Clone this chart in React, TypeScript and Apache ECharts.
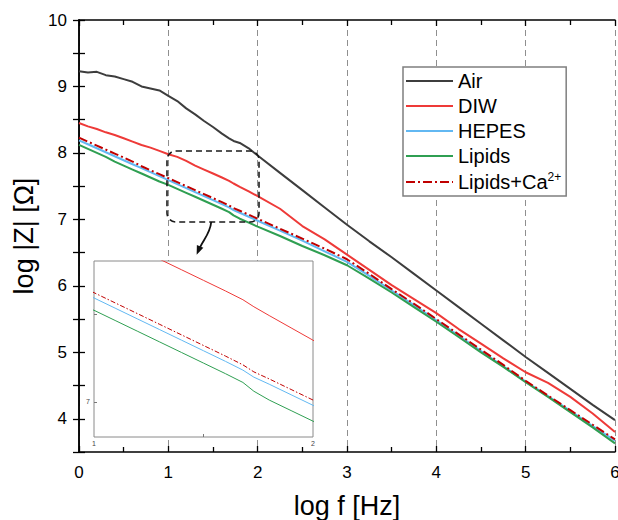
import React, { useEffect, useRef } from 'react';
import * as echarts from 'echarts';

// log f [Hz] sample positions
const logF = [0, 0.1, 0.2, 0.3, 0.4, 0.5, 0.6, 0.7, 0.8, 0.9, 1.0, 1.1, 1.2, 1.3, 1.4, 1.5, 1.6, 1.68, 1.73, 1.8, 1.9, 2.0,
  2.25, 2.5, 2.75, 3.0, 3.25, 3.5, 3.75, 4.0, 4.25, 4.5, 4.75, 5.0, 5.25, 5.5, 5.75, 6.0];

const airZ = [9.23, 9.21, 9.22, 9.17, 9.15, 9.11, 9.07, 9.00, 8.97, 8.94, 8.86, 8.78, 8.67, 8.58, 8.48, 8.39, 8.29, 8.22, 8.18, 8.15, 8.07, 7.96,
  7.70, 7.44, 7.18, 6.92, 6.67, 6.43, 6.18, 5.93, 5.68, 5.43, 5.18, 4.93, 4.69, 4.45, 4.21, 3.98];
const diwZ = [8.45, 8.40, 8.36, 8.31, 8.27, 8.22, 8.17, 8.12, 8.08, 8.03, 7.98, 7.94, 7.88, 7.81, 7.75, 7.69, 7.63, 7.58, 7.54, 7.49, 7.42, 7.35,
  7.16, 6.90, 6.70, 6.47, 6.24, 6.01, 5.80, 5.59, 5.35, 5.13, 4.91, 4.70, 4.54, 4.33, 4.08, 3.80];
const hepesZ = [8.19, 8.13, 8.07, 8.01, 7.95, 7.89, 7.83, 7.77, 7.71, 7.65, 7.59, 7.53, 7.47, 7.41, 7.35, 7.29, 7.23, 7.18, 7.14, 7.10, 7.04, 6.98,
  6.83, 6.68, 6.52, 6.36, 6.15, 5.93, 5.71, 5.48, 5.25, 5.02, 4.79, 4.56, 4.34, 4.12, 3.89, 3.67];
const lipidsZ = [8.12, 8.06, 8.00, 7.94, 7.87, 7.81, 7.75, 7.69, 7.63, 7.57, 7.52, 7.46, 7.40, 7.34, 7.28, 7.22, 7.16, 7.11, 7.06, 7.01, 6.95, 6.89,
  6.75, 6.60, 6.46, 6.31, 6.11, 5.90, 5.68, 5.46, 5.23, 5.00, 4.78, 4.55, 4.33, 4.10, 3.87, 3.63];
const lipidsCaZ = [8.23, 8.17, 8.11, 8.05, 7.99, 7.93, 7.87, 7.80, 7.74, 7.68, 7.62, 7.56, 7.50, 7.44, 7.38, 7.32, 7.26, 7.21, 7.17, 7.13, 7.07, 7.01,
  6.86, 6.71, 6.56, 6.40, 6.18, 5.95, 5.73, 5.50, 5.27, 5.04, 4.81, 4.57, 4.35, 4.13, 3.91, 3.69];

const seriesNames = ['Air', 'DIW', 'HEPES', 'Lipids', 'Lipids+Ca2+'];
const seriesColors = ['#3d3d3d', '#ee3a38', '#62b8f2', '#2f9f52', '#c00000'];
const seriesValues = [airZ, diwZ, hepesZ, lipidsZ, lipidsCaZ];

const xTicks = { min: 0, max: 6, interval: 1 };
const yTicks = { min: 3.5, max: 10, interval: 0.5 };
const insetX = { min: 1, max: 2, ticks: [1.5], labels: [1, 2] };
const insetY = { min: 6.8, max: 7.8, ticks: [7, 7.5], labels: [7] };

const FONT = 'Liberation Sans, Arial, sans-serif';

export default function App() {
  const ref = useRef<HTMLDivElement>(null);

  useEffect(() => {
    const chart = echarts.init(ref.current!, null, { renderer: 'svg' });
    const pairs = (ys: number[]) => logF.map((x, i) => [x, ys[i]]);

    const mainSeries = seriesNames.map((name, i) => ({
      name,
      type: 'line',
      xAxisIndex: 0,
      yAxisIndex: 0,
      symbol: 'none',
      showSymbol: false,
      z: 2,
      itemStyle: { color: seriesColors[i] },
      lineStyle: {
        color: seriesColors[i],
        width: 2,
        type: i === 4 ? [9, 3, 2, 3] : 'solid',
      },
      data: pairs(seriesValues[i]),
    }));

    const insetSeries = seriesNames.slice(1).map((name, j) => {
      const i = j + 1;
      return {
        name,
        type: 'line',
        xAxisIndex: 2,
        yAxisIndex: 2,
        symbol: 'none',
        showSymbol: false,
        clip: true,
        z: 5,
        itemStyle: { color: seriesColors[i] },
        lineStyle: {
          color: seriesColors[i],
          width: 1,
          type: i === 4 ? [5, 2, 1.5, 2] : 'solid',
        },
        data: pairs(seriesValues[i]),
      };
    });

    const frameLine = { show: true, lineStyle: { color: '#000', width: 1.5 } };
    const inTick = { show: true, inside: true, length: 6, lineStyle: { color: '#000', width: 1.3 } };

    chart.setOption({
      animation: false,
      backgroundColor: '#fff',
      textStyle: { fontFamily: FONT },
      grid: [
        { left: 79, right: 3, top: 20, bottom: 68, outerBoundsMode: 'none', containLabel: false },
        {
          left: 94, top: 261, width: 219, height: 176, show: true, z: 3,
          outerBoundsMode: 'none', containLabel: false,
          backgroundColor: '#fff', borderColor: '#8a8a8a', borderWidth: 1,
        },
      ],
      xAxis: [
        {
          type: 'value', gridIndex: 0, position: 'bottom', ...xTicks,
          axisLine: frameLine, axisTick: inTick,
          minorTick: { show: true, splitNumber: 2, length: 5, lineStyle: { color: '#000', width: 1.3 } },
          splitLine: { show: true, lineStyle: { color: '#8f8f8f', width: 1, type: [6, 4] } },
          axisLabel: { fontSize: 17, color: '#000', margin: 12, fontFamily: FONT },
          name: 'log f [Hz]', nameLocation: 'middle', nameGap: 40,
          nameTextStyle: { fontSize: 27, color: '#000', fontFamily: FONT },
        },
        {
          type: 'value', gridIndex: 0, position: 'top', ...xTicks,
          axisLine: frameLine, axisTick: inTick,
          minorTick: { show: true, splitNumber: 2, length: 5, lineStyle: { color: '#000', width: 1.3 } },
          splitLine: { show: false }, axisLabel: { show: false },
        },
        {
          type: 'value', gridIndex: 1, position: 'bottom', min: insetX.min, max: insetX.max, z: 4,
          axisLine: { show: false },
          axisTick: { show: true, inside: true, length: 3, customValues: insetX.ticks, lineStyle: { color: '#777', width: 1 } },
          splitLine: { show: false },
          axisLabel: { show: true, customValues: insetX.labels, fontSize: 7, color: '#444', margin: 3, fontFamily: FONT },
        },
      ],
      yAxis: [
        {
          type: 'value', gridIndex: 0, position: 'left', ...yTicks,
          axisLine: frameLine, axisTick: inTick, splitLine: { show: false },
          axisLabel: {
            fontSize: 17, color: '#000', margin: 12, fontFamily: FONT,
            formatter: (v: number) => (Number.isInteger(v) ? String(v) : ''),
          },
          name: 'log |Z| [Ω]', nameLocation: 'middle', nameGap: 37,
          nameTextStyle: { fontSize: 27, color: '#000', fontFamily: FONT },
        },
        {
          type: 'value', gridIndex: 0, position: 'right', ...yTicks,
          axisLine: frameLine, axisTick: inTick, splitLine: { show: false },
          axisLabel: { show: false },
        },
        {
          type: 'value', gridIndex: 1, position: 'left', min: insetY.min, max: insetY.max, z: 4,
          axisLine: { show: false },
          axisTick: { show: true, inside: true, length: 3, customValues: insetY.ticks, lineStyle: { color: '#777', width: 1 } },
          splitLine: { show: false },
          axisLabel: { show: true, customValues: insetY.labels, fontSize: 7, color: '#444', margin: 4, fontFamily: FONT },
        },
      ],
      legend: {
        orient: 'vertical', left: 403, top: 67,
        data: seriesNames,
        itemWidth: 47, itemHeight: 2, itemGap: 5,
        padding: [4, 5, 4, 2],
        borderColor: '#7f7f7f', borderWidth: 1.5, backgroundColor: '#fff',
        textStyle: {
          fontSize: 20, color: '#000', fontFamily: FONT,
          rich: {
            n: { fontSize: 20, color: '#000', fontFamily: FONT },
            s: { fontSize: 12, color: '#000', fontFamily: FONT, padding: [0, 0, 10, 0] },
          },
        },
        formatter: (name: string) => (name === 'Lipids+Ca2+' ? '{n|Lipids+Ca}{s|2+}' : name),
      },
      series: [...mainSeries, ...insetSeries],
    });

    // callout box around the zoomed region and the arrow to the inset
    const toPx = (x: number, y: number) =>
      chart.convertToPixel({ xAxisIndex: 0, yAxisIndex: 0 }, [x, y]) as number[];
    const tl = toPx(0.985, 8.03);
    const br = toPx(2.015, 6.96);
    const s = toPx(1.48, 6.96);
    const e = toPx(1.33, 6.51);
    const c1 = [s[0] - 1, s[1] + 12];
    const c2 = [e[0] + 5, e[1] - 12];
    const dx = e[0] - c2[0];
    const dy = e[1] - c2[1];
    const len = Math.hypot(dx, dy);
    const ux = dx / len;
    const uy = dy / len;
    const tip = [e[0] + ux * 3, e[1] + uy * 3];
    const base = [tip[0] - ux * 9, tip[1] - uy * 9];
    const head = [
      tip,
      [base[0] + -uy * 3.5, base[1] + ux * 3.5],
      [base[0] - -uy * 3.5, base[1] - ux * 3.5],
    ];

    chart.setOption({
      graphic: [
        {
          type: 'rect', z: 10, silent: true,
          shape: { x: tl[0], y: tl[1], width: br[0] - tl[0], height: br[1] - tl[1], r: 9 },
          style: { fill: 'none', stroke: '#1a1a1a', lineWidth: 1.6, lineDash: [6, 4] },
        },
        {
          type: 'bezierCurve', z: 10, silent: true,
          shape: { x1: s[0], y1: s[1], cpx1: c1[0], cpy1: c1[1], cpx2: c2[0], cpy2: c2[1], x2: e[0], y2: e[1] },
          style: { fill: 'none', stroke: '#111', lineWidth: 1.8 },
        },
        {
          type: 'polygon', z: 10, silent: true,
          shape: { points: head },
          style: { fill: '#111' },
        },
      ],
    });

    return () => chart.dispose();
  }, []);

  return (
    <div
      ref={ref}
      style={{ position: 'fixed', left: 0, top: 0, width: 618, height: 520, background: '#fff' }}
    />
  );
}
